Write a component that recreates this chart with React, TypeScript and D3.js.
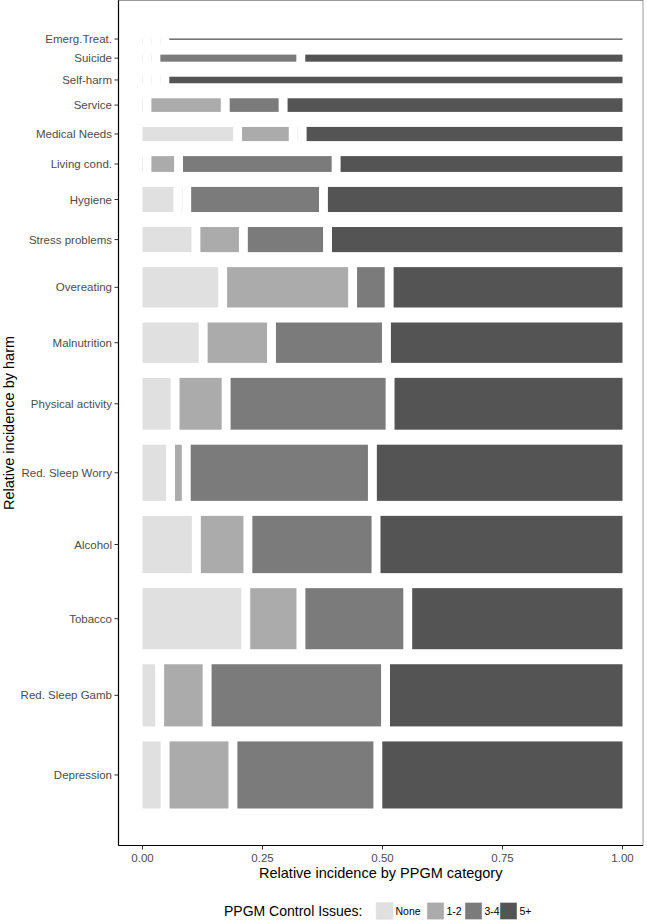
import React, { useEffect, useRef } from 'react';
import * as d3 from 'd3';

// harms listed top to bottom
const harms = [
  'Emerg.Treat.', 'Suicide', 'Self-harm', 'Service', 'Medical Needs', 'Living cond.',
  'Hygiene', 'Stress problems', 'Overeating', 'Malnutrition', 'Physical activity',
  'Red. Sleep Worry', 'Alcohol', 'Tobacco', 'Red. Sleep Gamb', 'Depression',
];
// relative incidence of each harm (row height)
const harmWeight = [0.2, 1.3, 1.2, 2.5, 2.6, 2.9, 4.6, 4.6, 7.4, 7.4, 9.5, 10.3, 10.5, 11.2, 11.4, 12.3];

const categories = ['None', '1-2', '3-4', '5+'];
// share of each PPGM category within a harm
const shareNone = [0, 0, 0, 0, 0.2, 0, 0.068, 0.108, 0.167, 0.124, 0.062, 0.052, 0.109, 0.218, 0.028, 0.04];
const share12 = [0, 0, 0, 0.153, 0.103, 0.05, 0, 0.085, 0.267, 0.131, 0.093, 0.015, 0.094, 0.102, 0.085, 0.13];
const share34 = [0, 0.3, 0, 0.108, 0, 0.328, 0.282, 0.166, 0.061, 0.234, 0.342, 0.391, 0.263, 0.216, 0.374, 0.3];
const share5 = [1, 0.7, 1, 0.739, 0.697, 0.622, 0.65, 0.641, 0.505, 0.511, 0.503, 0.542, 0.534, 0.464, 0.513, 0.53];

const xTicks = [0, 0.25, 0.5, 0.75, 1];
const colors = ['#e0e0e0', '#ababab', '#7b7b7b', '#545454'];

const App = () => {
  const ref = useRef(null);

  useEffect(() => {
    const svg = d3.select(ref.current);
    svg.selectAll('*').remove();

    const font = 'Liberation Sans, Arial, sans-serif';
    const left = 118.5, right = 643, top = 0.5, bottom = 845.5;
    const x = d3.scaleLinear().domain([0, 1]).range([142.5, 622.5]);
    const y = d3.scaleLinear().domain([0, 1]).range([808.5, 38.5]);

    const gapX = 0.0186;
    const gapY = 0.0195;
    const shares = [shareNone, share12, share34, share5];

    // mosaic layout, bottom row first
    const total = d3.sum(harmWeight);
    const avail = 1 - (harms.length - 1) * gapY;
    const rows = [];
    let y0 = 0;
    for (let i = harms.length - 1; i >= 0; i--) {
      const h = (harmWeight[i] / total) * avail;
      const rowShares = shares.map(s => s[i]);
      const sumS = d3.sum(rowShares);
      let x0 = 0;
      const segs = rowShares.map((s, j) => {
        const w = (s / sumS) * (1 - 3 * gapX);
        const seg = { x0, x1: x0 + w, cat: j };
        x0 += w + gapX;
        return seg;
      });
      rows.push({ name: harms[i], y0, y1: y0 + h, segs });
      y0 += h + gapY;
    }

    const g = svg.append('g');
    rows.forEach(r => {
      const ry = y(r.y1);
      const rh = Math.max(1.3, y(r.y0) - y(r.y1));
      const full = r.segs.filter(d => d.x1 - d.x0 > 0);
      const empty = r.segs.filter(d => d.x1 - d.x0 <= 0);
      g.selectAll(null)
        .data(full)
        .enter()
        .append('rect')
        .attr('x', d => x(d.x0))
        .attr('width', d => x(d.x1) - x(d.x0))
        .attr('y', ry)
        .attr('height', rh)
        .attr('fill', d => colors[d.cat]);
      // zero-width cells leave a faint outline
      g.selectAll(null)
        .data(empty)
        .enter()
        .append('line')
        .attr('x1', d => x(d.x0)).attr('x2', d => x(d.x0))
        .attr('y1', ry).attr('y2', ry + Math.max(rh, 5))
        .attr('stroke', '#ebebeb').attr('stroke-width', 0.8);
    });

    // panel border
    svg.append('rect')
      .attr('x', left).attr('y', top)
      .attr('width', right - left).attr('height', bottom - top)
      .attr('fill', 'none').attr('stroke', '#555').attr('stroke-width', 0.6);
    svg.append('line').attr('x1', left).attr('x2', left).attr('y1', top).attr('y2', bottom)
      .attr('stroke', '#000').attr('stroke-width', 1.2);
    svg.append('line').attr('x1', left).attr('x2', right).attr('y1', bottom).attr('y2', bottom)
      .attr('stroke', '#000').attr('stroke-width', 1.2);

    // y ticks
    rows.forEach(r => {
      const cy = y((r.y0 + r.y1) / 2);
      svg.append('line').attr('x1', left - 4).attr('x2', left).attr('y1', cy).attr('y2', cy)
        .attr('stroke', '#333').attr('stroke-width', 1);
      svg.append('text').attr('x', left - 6.5).attr('y', cy).attr('dy', '0.35em')
        .attr('text-anchor', 'end').attr('font-family', font).attr('font-size', 11.5)
        .attr('fill', '#4d4d4d').text(r.name);
    });

    // x ticks
    xTicks.forEach(t => {
      svg.append('line').attr('x1', x(t)).attr('x2', x(t)).attr('y1', bottom).attr('y2', bottom + 4)
        .attr('stroke', '#333').attr('stroke-width', 1);
      svg.append('text').attr('x', x(t)).attr('y', bottom + 16).attr('text-anchor', 'middle')
        .attr('font-family', font).attr('font-size', 11.5).attr('fill', '#4d4d4d')
        .text(d3.format('.2f')(t));
    });

    svg.append('text').attr('x', (left + right) / 2).attr('y', 878).attr('text-anchor', 'middle')
      .attr('font-family', font).attr('font-size', 14.5).attr('fill', '#000')
      .text('Relative incidence by PPGM category');

    svg.append('text').attr('transform', `translate(14,${(top + bottom) / 2}) rotate(-90)`)
      .attr('text-anchor', 'middle').attr('font-family', font).attr('font-size', 14.5)
      .attr('fill', '#000').text('Relative incidence by harm');

    // legend
    const ly = 911;
    svg.append('text').attr('x', 224).attr('y', ly).attr('dy', '0.35em')
      .attr('font-family', font).attr('font-size', 14).attr('fill', '#000')
      .text('PPGM Control Issues:');
    const keyX = [376, 427, 465, 500];
    categories.forEach((c, i) => {
      svg.append('rect').attr('x', keyX[i]).attr('y', ly - 8.5).attr('width', 17).attr('height', 17)
        .attr('fill', colors[i]).attr('stroke', '#e6e6e6').attr('stroke-width', 0.5);
      svg.append('text').attr('x', keyX[i] + 19.5).attr('y', ly).attr('dy', '0.35em')
        .attr('font-family', font).attr('font-size', 10.5).attr('fill', '#000')
        .attr('textLength', c.length > 3 ? null : null).text(c);
    });
  }, []);

  return (
    <svg ref={ref} width={647} height={923}
      style={{ position: 'absolute', left: 0, top: 0, background: '#fff' }} />
  );
};

export default App;
